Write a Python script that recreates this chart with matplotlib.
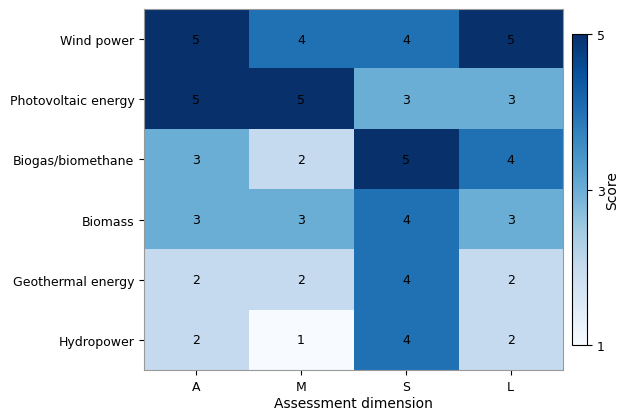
import numpy as np
import matplotlib.pyplot as plt

# technologies (rows) and assessment dimensions (columns)
technologies = ['Wind power', 'Photovoltaic energy', 'Biogas/biomethane',
                'Biomass', 'Geothermal energy', 'Hydropower']
dimensions = ['A', 'M', 'S', 'L']

wind = [5, 4, 4, 5]
photovoltaic = [5, 5, 3, 3]
biogas = [3, 2, 5, 4]
biomass = [3, 3, 4, 3]
geothermal = [2, 2, 4, 2]
hydro = [2, 1, 4, 2]

scores = np.array([wind, photovoltaic, biogas, biomass, geothermal, hydro])

fig = plt.figure(figsize=(6.19, 4.10), dpi=100)
ax = fig.add_axes([0.2326, 0.0951, 0.6769, 0.8805])
cax = fig.add_axes([0.924, 0.156, 0.0242, 0.7585])

im = ax.imshow(scores, cmap='Blues', vmin=1, vmax=5, aspect='auto')

ax.set_xticks(range(len(dimensions)))
ax.set_xticklabels(dimensions)
ax.set_yticks(range(len(technologies)))
ax.set_yticklabels(technologies)
ax.set_xlabel('Assessment dimension', fontsize=10, labelpad=2)
ax.tick_params(labelsize=9)

for spine in ax.spines.values():
    spine.set_color('#999999')

# value labels in each cell
for i in range(scores.shape[0]):
    for j in range(scores.shape[1]):
        ax.text(j, i, str(scores[i, j]), ha='center', va='center',
                color='black', fontsize=9)

cbar = fig.colorbar(im, cax=cax, ticks=[1, 3, 5])
cbar.ax.tick_params(labelsize=9)
cbar.set_label('Score', fontsize=10, labelpad=0)

fig.savefig('out.png', dpi=100)
